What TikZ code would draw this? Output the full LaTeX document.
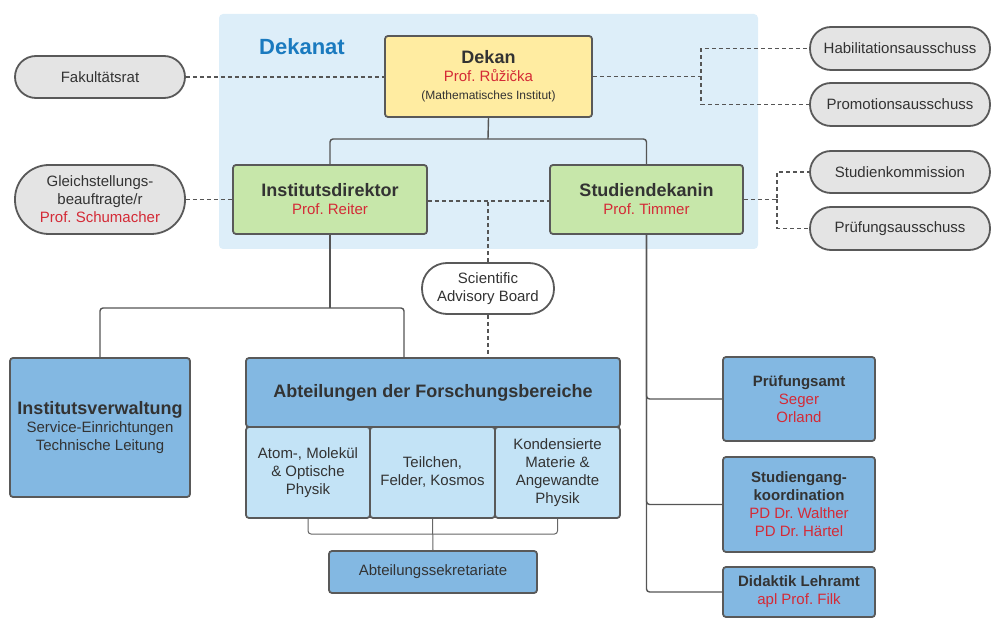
\documentclass[tikz,border=0pt]{standalone}
\usepackage{fontspec}
\setmainfont{Liberation Sans}
\usetikzlibrary{calc}
\definecolor{dekbg}{HTML}{DDEEF9}
\definecolor{yelc}{HTML}{FFECA1}
\definecolor{grnc}{HTML}{C7E7AA}
\definecolor{bluc}{HTML}{83B8E2}
\definecolor{lbluc}{HTML}{C3E3F6}
\definecolor{grayc}{HTML}{E4E4E4}
\definecolor{bordc}{HTML}{595959}
\definecolor{txtc}{HTML}{333333}
\definecolor{redc}{HTML}{D42A36}
\definecolor{linec}{HTML}{555555}
\definecolor{dektxt}{HTML}{1A7ABF}
\newcommand\bigbf{\fontsize{18}{21}\selectfont\bfseries}
\newcommand\midbf{\fontsize{15}{18}\selectfont\bfseries}
\newcommand\smallf{\fontsize{12}{14}\selectfont}
\newcommand\rd[1]{\textcolor{redc}{#1}}
\frenchspacing
\begin{document}
\begin{tikzpicture}[x=1pt,y=-1pt,
  box/.style={draw=bordc, line width=1.8pt, rounded corners=3pt, inner sep=0pt,
    align=center, text=txtc, font=\fontsize{15}{18}\selectfont},
  capsule/.style={box, fill=grayc},
  conn/.style={draw=linec, line width=1.4pt, rounded corners=3pt},
  thinconn/.style={draw=gray!80!black, line width=1pt, rounded corners=3pt},
  dashc/.style={draw=linec, line width=1.5pt, dash pattern=on 4pt off 3pt}]
\useasboundingbox (0,0) rectangle (1005,628);
% Dekanat background
\node[fill=dekbg, rounded corners=4pt, minimum width=539pt, minimum height=235pt, inner sep=0pt] (dekanatbg) at (488.5,131.5) {};
\node[text=dektxt, font=\fontsize{22}{26}\selectfont\bfseries, inner sep=0pt] (dekanatlbl) at (302,47) {Dekanat};
% top level
\node[box, fill=yelc, minimum width=207pt, minimum height=81pt] (dekan) at (488.5,76.5)
  {{\bigbf Dekan}\\\rd{Prof. Růžička}\\{\smallf (Mathematisches Institut)}};
\node[capsule, rounded corners=21pt, minimum width=170pt, minimum height=42pt] (fak) at (100,77) {Fakultätsrat};
\node[capsule, rounded corners=21pt, minimum width=180pt, minimum height=43pt] (habil) at (900,48.5) {Habilitationsausschuss};
\node[capsule, rounded corners=21pt, minimum width=180pt, minimum height=43pt] (promo) at (900,104.5) {Promotionsausschuss};
% second level
\node[box, fill=grnc, minimum width=194pt, minimum height=69pt] (idir) at (330,199.5)
  {{\bigbf Institutsdirektor}\\\rd{Prof. Reiter}};
\node[box, fill=grnc, minimum width=193pt, minimum height=69pt] (sdek) at (646.5,199.5)
  {{\bigbf Studiendekanin}\\\rd{Prof. Timmer}};
\node[capsule, rounded corners=34pt, minimum width=170pt, minimum height=69pt] (gleich) at (100,199.5)
  {Gleichstellungs-\\beauftragte/r\\\rd{Prof. Schumacher}};
\node[capsule, rounded corners=21pt, minimum width=180pt, minimum height=42pt] (skomm) at (900,172) {Studienkommission};
\node[capsule, rounded corners=21pt, minimum width=180pt, minimum height=43pt] (pruef) at (900,228.5) {Prüfungsausschuss};
\node[box, fill=white, rounded corners=25pt, minimum width=132pt, minimum height=51pt] (sab) at (488,288.5)
  {Scientific\\Advisory Board};
% third level
\node[box, fill=bluc, minimum width=180pt, minimum height=139pt] (iverw) at (100,427.5)
  {{\bigbf Institutsverwaltung}\\Service-Einrichtungen\\Technische Leitung};
\node[box, fill=bluc, minimum width=374pt, minimum height=69pt] (abt) at (433,392.5)
  {\bigbf Abteilungen der Forschungsbereiche};
\node[box, fill=lbluc, minimum width=124pt, minimum height=91pt] (sub1) at (308,472.5)
  {Atom-, Molekül\\\& Optische\\Physik};
\node[box, fill=lbluc, minimum width=125pt, minimum height=91pt] (sub2) at (432.5,472.5)
  {Teilchen,\\Felder, Kosmos};
\node[box, fill=lbluc, minimum width=125pt, minimum height=91pt] (sub3) at (557.5,472.5)
  {Kondensierte\\Materie \&\\Angewandte\\Physik};
\node[box, fill=bluc, minimum width=208pt, minimum height=42pt] (sekr) at (433,572)
  {Abteilungssekretariate};
% right column
\node[box, fill=bluc, minimum width=152pt, minimum height=84pt] (pamt) at (799,399)
  {{\midbf Prüfungsamt}\\\rd{Seger}\\\rd{Orland}};
\node[box, fill=bluc, minimum width=152pt, minimum height=95pt] (sgk) at (799,504.5)
  {{\midbf Studiengang-}\\{\midbf koordination}\\\rd{PD Dr. Walther}\\\rd{PD Dr. Härtel}};
\node[box, fill=bluc, minimum width=152pt, minimum height=50pt] (didak) at (799,592)
  {{\midbf Didaktik Lehramt}\\\rd{apl Prof. Filk}};
% coordinates
\coordinate (hbx) at (701,0);
\coordinate (sbx) at (777,0);
\coordinate (dk) at (488,139);
\coordinate (j2) at (330,308);
\coordinate (abtin) at (404,358);
\coordinate (jb) at (433,534);
\coordinate (ide) at ([yshift=-1.5pt]idir.east);
\coordinate (sdw) at ([yshift=-1.5pt]sdek.west);
% dashed connectors
\draw[dashc] (fak.east) -- (fak.east -| dekan.west);
\draw[dashc] (dekan.east) -- (dekan.east -| hbx) |- (habil.west);
\draw[dashc] (dekan.east -| hbx) |- (promo.west);
\draw[dashc] (sdek.east) -- (sdek.east -| sbx) |- (skomm.west);
\draw[dashc] (sdek.east -| sbx) |- (pruef.west);
\draw[dashc] (gleich.east) -- (idir.west);
\draw[dashc] (ide) -- (sdw);
\draw[dashc] (sab.north) -- (sab.north |- ide);
\draw[dashc] (sab.south) -- (sab.south |- abt.north);
% solid connectors
\draw[conn] (dekan.south) -- (dk);
\draw[conn] (idir.north) |- (dk) -| (sdek.north);
\draw[conn] (idir.south) -- (j2);
\draw[conn] (iverw.north) |- (j2) -| (abtin);
\draw[conn] (sdek.south) |- (pamt.west);
\draw[conn] (sdek.south) |- (sgk.west);
\draw[conn] (sdek.south) |- (didak.west);
\draw[thinconn] (sub1.south) |- (jb) -| (sub3.south);
\draw[thinconn] (sub2.south) -- (sekr.north);
\end{tikzpicture}
\end{document}
